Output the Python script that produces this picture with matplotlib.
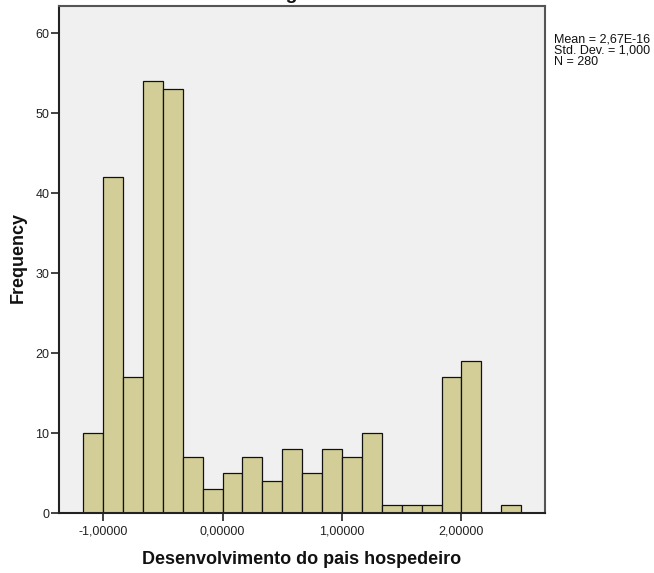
import matplotlib.pyplot as plt
import numpy as np
from matplotlib.ticker import FuncFormatter

plt.rcParams["font.family"] = ["Liberation Sans", "DejaVu Sans"]

# histogram bins (width 1/6) and counts
bin_inicio = -7 / 6
bin_ancho = 1 / 6
conteos = [10, 42, 17, 54, 53, 7, 3, 5, 7, 4, 8, 5, 8, 7, 10, 1, 1, 1, 17, 19, 0, 1]
x_ticks = [-1, 0, 1, 2]
y_ticks = [0, 10, 20, 30, 40, 50, 60]
estadisticas = ["Mean = 2,67E-16", "Std. Dev. = 1,000", "N = 280"]

bordes = bin_inicio + bin_ancho * np.arange(len(conteos) + 1)

fig = plt.figure(figsize=(6.54, 5.73), dpi=100)
ax = fig.add_axes([59 / 654, 1 - 513 / 573, 486.5 / 654, 507 / 573])
ax.set_facecolor("#f0f0f0")

ax.bar(bordes[:-1], conteos, width=bin_ancho, align="edge",
       color="#d3ce97", edgecolor="#111111", linewidth=0.9)

ax.set_xlim(-1.369, 2.704)
ax.set_ylim(0, 63.4)
ax.set_xticks(x_ticks)
ax.set_yticks(y_ticks)
ax.xaxis.set_major_formatter(FuncFormatter(lambda v, p: f"{v:.5f}".replace(".", ",")))
ax.tick_params(axis="both", direction="out", length=6, width=1.2,
               color="#222222", labelsize=9, labelcolor="#222222")
ax.tick_params(axis="x", pad=3)
ax.tick_params(axis="y", pad=1)

for lado in ax.spines.values():
    lado.set_color("#555555")
    lado.set_linewidth(1.5)
ax.spines["bottom"].set_color("#222222")
ax.spines["left"].set_color("#222222")

fig.text(302 / 654, 1 - 559 / 573, "Desenvolvimento do pais hospedeiro",
         ha="center", va="center", fontsize=13, fontweight="bold", color="#111111")
fig.text(18 / 654, 1 - 258 / 573, "Frequency", ha="center", va="center",
         rotation=90, fontsize=13, fontweight="bold", color="#111111")
for i, linea in enumerate(estadisticas):
    fig.text(554 / 654, 1 - (39 + 11.5 * i) / 573, linea, ha="left", va="center",
             fontsize=9, color="#111111")

# title cut off at the top edge, only the descender shows
fig.text(286 / 654, 1 + 1 / 573, "Histogram", ha="center", va="baseline",
         fontsize=14, fontweight="bold", color="#111111")

fig.savefig("out.png", dpi=100)
